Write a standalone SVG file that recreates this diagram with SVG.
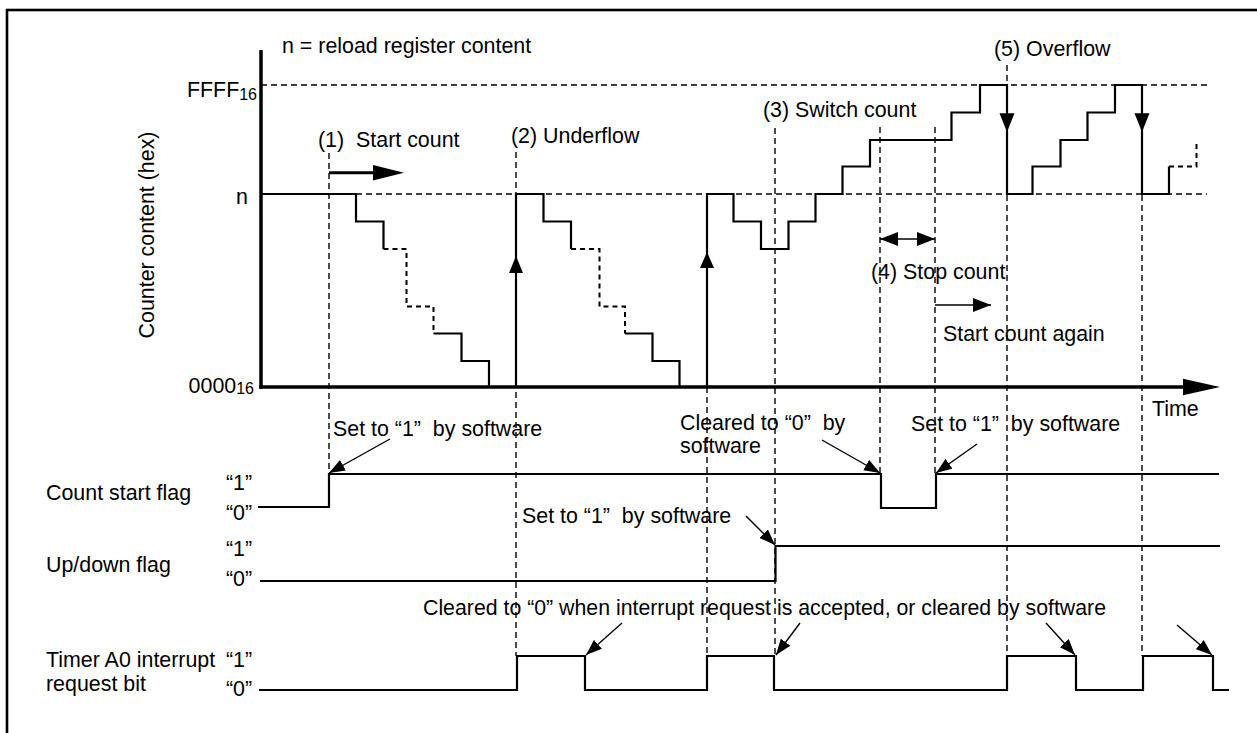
<svg xmlns="http://www.w3.org/2000/svg" width="1257" height="733" viewBox="0 0 1257 733">
<defs>
<style>
text{font-family:"Liberation Sans",Arial,Helvetica,sans-serif;font-size:21.4px;fill:#000;white-space:pre}
.w{fill:none;stroke:#000;stroke-width:2.2;stroke-linejoin:miter}
.wd{fill:none;stroke:#000;stroke-width:2;stroke-dasharray:5 4}
.g{fill:none;stroke:#000;stroke-width:1.4;stroke-dasharray:6 4}
.ax{fill:none;stroke:#000;stroke-width:3.5}
.pt{fill:none;stroke:#000;stroke-width:1.4}
.hd{fill:#000;stroke:none}
</style>
<marker id="ah" markerUnits="userSpaceOnUse" viewBox="0 0 16 12" refX="16" refY="6" markerWidth="16" markerHeight="12" orient="auto"><path d="M0,0 L16,6 L0,12 z" fill="#000"/></marker>
<marker id="ahm" markerUnits="userSpaceOnUse" viewBox="0 0 18 14" refX="18" refY="7" markerWidth="18" markerHeight="14" orient="auto-start-reverse"><path d="M0,0 L18,7 L0,14 z" fill="#000"/></marker>
</defs>
<rect x="7" y="10" width="1262" height="740" fill="#fff" stroke="#000" stroke-width="2.6"/>

<g id="guides">
<line class="g" x1="261" y1="85" x2="1207" y2="85"/>
<line class="g" x1="356" y1="194" x2="1207" y2="194"/>
<line class="g" x1="329" y1="153" x2="329" y2="474"/>
<line class="g" x1="516" y1="152" x2="516" y2="656"/>
<line class="g" x1="707" y1="387" x2="707" y2="656"/>
<line class="g" x1="775" y1="128" x2="775" y2="656"/>
<line class="g" x1="880" y1="127" x2="880" y2="474"/>
<line class="g" x1="935" y1="127" x2="935" y2="474"/>
<line class="g" x1="1007" y1="65" x2="1007" y2="656"/>
<line class="g" x1="1142" y1="85" x2="1142" y2="656"/>
</g>

<g id="axes">
<line class="ax" x1="261" y1="50" x2="261" y2="388.7"/>
<line class="ax" x1="259.3" y1="387" x2="1186" y2="387"/>
<path class="hd" d="M1183,378.7 L1220,387 L1183,395.3 z"/>
</g>

<g id="counter">
<path class="w" d="M261,194 H356 V221.5 H383.5 V249"/>
<path class="wd" d="M383.5,249 H406.5 V306.5 H433.5 V333.5"/>
<path class="w" d="M433.5,333.5 H461.5 V361 H489 V387"/>
<path class="w" d="M516,387 V194 H543.5 V221.5 H571 V249"/>
<path class="wd" d="M571,249 H599.5 V306.5 H625 V333.5"/>
<path class="w" d="M625,333.5 H652.5 V361 H679.5 V387"/>
<path class="w" d="M707,387 V194 H733.5 V221.5 H761 V249 H788.5 V221.5 H815.5 V194 H842.5 V166.5 H870 V140 H951.5 V112.5 H980 V85 H1007 V194 H1032.5 V166.5 H1060.5 V140 H1087.5 V112.5 H1115 V85 H1142 V194 H1169 V166.5"/>
<path class="wd" d="M1169,166.5 H1196.5 V140"/>
<path class="hd" d="M516,256 L523,273 L509,273 z"/>
<path class="hd" d="M707,252 L714,268 L700,268 z"/>
<path class="hd" d="M1007,132 L999.5,113.3 L1014.5,113.3 z"/>
<path class="hd" d="M1142,132 L1134.5,113.3 L1149.5,113.3 z"/>
</g>

<g id="annotations">
<line x1="329" y1="172.7" x2="376" y2="172.7" stroke="#000" stroke-width="3"/>
<path class="hd" d="M373,165 L404,172.7 L373,180.4 z"/>
<line class="pt" x1="880" y1="239" x2="935" y2="239" stroke-width="2" marker-start="url(#ahm)" marker-end="url(#ahm)"/>
<line class="pt" x1="935" y1="305" x2="991" y2="305" stroke-width="2" marker-end="url(#ahm)"/>
</g>

<g id="flags">
<path class="w" d="M258,507 H329 V474 H881 V508 H936 V474 H1219"/>
<path class="w" d="M260,581 H775.5 V546 H1220"/>
<path class="w" d="M259,690 H517 V656 H585 V690 H707 V656 H774 V690 H1007 V656 H1076 V690 H1143 V656 H1213 V690 H1229"/>
</g>

<g id="connectors">
<line class="pt" x1="390" y1="439" x2="329" y2="473" marker-end="url(#ah)"/>
<line class="pt" x1="822" y1="440" x2="880" y2="473" marker-end="url(#ah)"/>
<line class="pt" x1="977" y1="444" x2="936" y2="473" marker-end="url(#ah)"/>
<line class="pt" x1="746" y1="516" x2="775" y2="545" marker-end="url(#ah)"/>
<line class="pt" x1="622" y1="623" x2="586" y2="655" marker-end="url(#ah)"/>
<line class="pt" x1="800" y1="623" x2="776" y2="655" marker-end="url(#ah)"/>
<line class="pt" x1="1046" y1="623" x2="1075" y2="655" marker-end="url(#ah)"/>
<line class="pt" x1="1177" y1="625" x2="1212" y2="655" marker-end="url(#ah)"/>
</g>

<g id="labels">
<text x="282" y="53">n = reload register content</text>
<text x="257" y="97" text-anchor="end">FFFF<tspan font-size="16" dy="3">16</tspan></text>
<text x="248" y="204" text-anchor="end">n</text>
<text x="254" y="393" text-anchor="end">0000<tspan font-size="16" dy="1">16</tspan></text>
<text transform="translate(154,235) rotate(-90)" text-anchor="middle">Counter content (hex)</text>
<text x="318" y="147">(1)  Start count</text>
<text x="511" y="143">(2) Underflow</text>
<text x="763" y="117">(3) Switch count</text>
<text x="994" y="56">(5) Overflow</text>
<text x="871" y="279">(4) Stop count</text>
<text x="943" y="341">Start count again</text>
<text x="1152" y="416">Time</text>
<text x="333" y="436">Set to “1”  by software</text>
<text x="680" y="430">Cleared to “0”  by</text>
<text x="680" y="453">software</text>
<text x="911" y="431">Set to “1”  by software</text>
<text x="522" y="523">Set to “1”  by software</text>
<text x="423" y="615" textLength="683" lengthAdjust="spacingAndGlyphs">Cleared to “0” when interrupt request is accepted, or cleared by software</text>
<text x="46" y="500">Count start flag</text>
<text x="46" y="572">Up/down flag</text>
<text x="46" y="667">Timer A0 interrupt</text>
<text x="46" y="691">request bit</text>
<text x="226" y="490">“1”</text>
<text x="226" y="520">“0”</text>
<text x="226" y="556">“1”</text>
<text x="226" y="586">“0”</text>
<text x="226" y="667">“1”</text>
<text x="226" y="696">“0”</text>
</g>
</svg>
